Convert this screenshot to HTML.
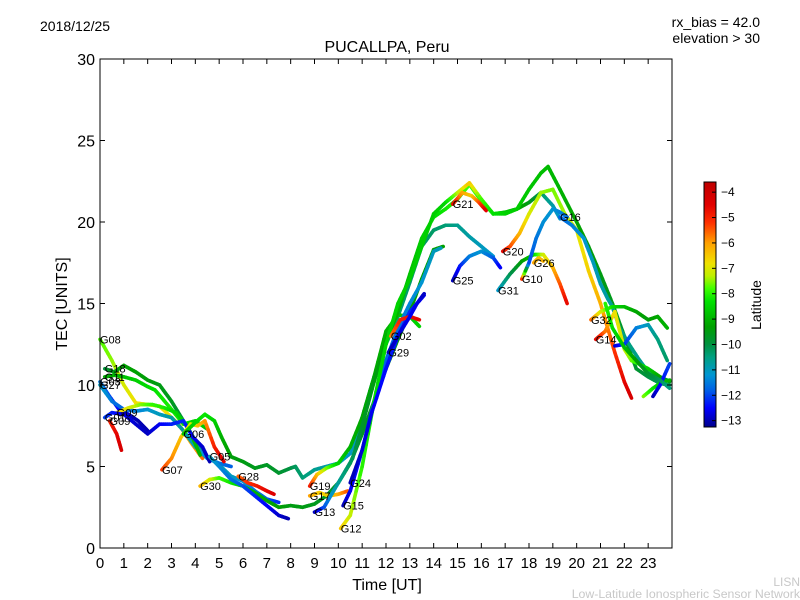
<!DOCTYPE html>
<html><head><meta charset="utf-8"><style>
body{margin:0;background:#fff;}
svg{display:block;font-family:"Liberation Sans","DejaVu Sans",sans-serif;}
</style></head><body>
<svg id="chart" width="800" height="600" viewBox="0 0 800 600">
<text x="40" y="31" font-size="14">2018/12/25</text>
<text x="760" y="27" font-size="14" text-anchor="end">rx_bias = 42.0</text>
<text x="760" y="43" font-size="14" text-anchor="end">elevation &gt; 30</text>
<text x="387" y="52" font-size="16" text-anchor="middle">PUCALLPA, Peru</text>
<text x="387" y="590" font-size="16" text-anchor="middle">Time [UT]</text>
<text transform="translate(67,304) rotate(-90)" font-size="16" text-anchor="middle">TEC [UNITS]</text>
<text x="800" y="586" font-size="12" fill="#c8c8c8" text-anchor="end">LISN</text>
<text x="800" y="598" font-size="12.3" fill="#c8c8c8" text-anchor="end">Low-Latitude Ionospheric Sensor Network</text>
<g id="tracks"></g>
<g id="labels"></g>
<rect x="100" y="59" width="572" height="489" fill="none" stroke="#000" stroke-width="1"/>
<g id="axes"></g>
<defs><linearGradient id="jet" x1="0" y1="1" x2="0" y2="0"></linearGradient></defs>
<rect x="704" y="182" width="12" height="245" fill="url(#jet)" stroke="#000"/>
<g id="cbar"></g>
<text transform="translate(761,305) rotate(-90)" font-size="14" text-anchor="middle">Latitude</text>
</svg>
<script>
const xTicks=[0,1,2,3,4,5,6,7,8,9,10,11,12,13,14,15,16,17,18,19,20,21,22,23];
const yTicks=[0,5,10,15,20,25,30];
const cbarTicks=[-4,-5,-6,-7,-8,-9,-10,-11,-12,-13];
const prns=["G08","G18","G11","G03","G27","G09","G01","G09b","G07","G30","G06","G28","G05","G19","G17","G13","G15","G12","G24","G02","G29","G21","G25","G20","G31","G10","G26","G16","G32","G14","Gx1","Gx2","Gx3","Gx4"];
const labelText={"G08":"G08","G18":"G18","G11":"G11","G03":"G03","G27":"G27","G09":"G09","G01":"G01","G09b":"G09","G07":"G07","G30":"G30","G06":"G06","G28":"G28","G05":"G05","G19":"G19","G17":"G17","G13":"G13","G15":"G15","G12":"G12","G24":"G24","G02":"G02","G29":"G29","G21":"G21","G25":"G25","G20":"G20","G31":"G31","G10":"G10","G26":"G26","G16":"G16","G32":"G32","G14":"G14"};
const times={
G08:[0,0.5,1,1.5,2.5,3.3,3.8,4.3],
G18:[0.2,0.6,1,1.5,2,2.5,3,3.5,4,4.5,5,5.5,6,6.5,7,7.5],
G11:[0.2,0.6,1,1.5,2,2.3,2.6,3,3.5,4,4.5],
G03:[0,0.4,0.8,1.2,1.6,2],
G27:[0,0.5,1,1.5,2,2.5,3,3.5,4,4.5,5,5.5],
G09:[0.7,1.2,1.7,2.2,2.7,3.2,3.7,4.2],
G01:[0.2,0.5,1,1.5,2,2.5,3,3.5,3.9,4.3,4.6],
G09b:[0.4,0.7,0.9],
G07:[2.6,3,3.4,3.8,4.1,4.4,4.8,5.2],
G30:[4.2,4.6,5,5.5,6,6.5,7,7.5,8,8.5,9,9.5,10,10.5,11,11.5,12,12.5,13,13.5,14,14.4],
G06:[3.5,4,4.4,4.8,5.1,5.5,6,6.5,7,7.5,8,8.2,8.5,9,9.5,10,10.5,11,11.5,12,12.5,13,13.5,14,14.5,15,15.5,16,16.5],
G28:[5.8,6.2,6.6,7,7.3],
G05:[4.6,5,5.5,6,6.5,7,7.5,7.9],
G19:[8.8,9.1,9.5,10,10.5,11,11.5,12,12.5,13,13.4],
G17:[8.8,9.2,9.6,10,10.4],
G13:[9,9.4,9.8,10.2,10.6,11,11.5,12,12.5,13,13.5,14,14.5,15,15.5,16,16.5,17,17.5,18,18.5,19,19.3],
G15:[10.2,10.5,11,11.5,12,12.5,13,13.5,14,14.3],
G12:[10.1,10.5,11,11.5,12,12.5,13,13.5,14,14.5,15,15.5,16,16.5,17,17.5,18,18.5,18.8,19.3,20,20.5,21,21.5,22,22.5,23,23.5,23.9],
G24:[10.5,11,11.4,12,12.5,13,13.6],
G02:[12.2,12.6,13,13.4],
G29:[12.1,12.5,13,13.3,13.6],
G21:[14.8,15.2,15.6,15.9,16.2],
G25:[14.8,15.1,15.5,16,16.5,16.8],
G20:[16.9,17.2,17.6,18,18.5,19,19.5,20,20.5,21,21.3,21.6,22,22.3],
G31:[16.7,17.2,17.7,18.2,18.6,19,19.3,19.6],
G10:[17.7,18,18.3,18.6,19,19.3,19.6],
G26:[18.2,18.4,18.6],
G16:[19.3,19.8,20.3,20.7,21,21.3,21.5,21.8,22.2,22.6,23,23.4,23.8],
G32:[20.6,21,21.5,22,22.5,23,23.4,23.8],
G14:[20.8,21.2,21.6,22,22.3,22.6,23,23.5,23.9],
Gx1:[21.6,22,22.5,23,23.4,23.8],
Gx2:[22.8,23.2,23.6,23.9],
Gx3:[23.2,23.5,23.9],
Gx4:[21.2,21.5,22,22.5,23,23.5,23.9]
};
const tec={
G08:[12.8,11.5,10,8.9,8.7,7.6,6.5,5.5],
G18:[11,10.8,11.2,10.8,10.3,10,9,7.8,6.6,5.6,5.1,4.4,4.1,3.5,3,2.8],
G11:[10.5,10.6,10.5,10.3,9.9,9.7,9.2,8.5,7.6,7.8,7.3],
G03:[10.2,9.3,8.5,8.2,7.8,7.2],
G27:[10,9,8.5,8.4,8.5,8.2,8,7.2,6.2,5.5,5.2,5],
G09:[8.3,8.6,8.8,8.8,8.6,8.3,7.4,5.7],
G01:[8,8.3,8.2,7.6,7,7.6,7.6,7.8,6.8,6.2,5.3],
G09b:[7.8,7,6],
G07:[4.8,5.5,6.8,7.6,7.5,7.8,6.2,5.3],
G30:[3.8,4.2,4.3,4,3.8,3.4,2.9,2.5,2.6,2.5,2.7,3.2,4,5.2,7,9,11,12.8,14.5,16.5,18.3,18.5],
G06:[7,7.7,8.2,7.8,6.8,5.6,5.3,4.9,5.1,4.6,4.9,5,4.3,4.8,5,5.2,5.8,8,10.5,12.5,14.2,16.3,18.5,19.5,19.8,19.8,19.1,18.5,17.9],
G28:[4.4,4,3.8,3.5,3.3],
G05:[5.6,5,4.2,3.8,3.2,2.6,2,1.8],
G19:[3.8,4.5,4.9,5.2,6.2,8,10.5,13.3,14.3,14.2,13.6],
G17:[3.2,3.4,3.2,3.3,3.5],
G13:[2.2,2.5,3.5,4.5,5.5,7.5,10.2,12.7,14.5,16.8,19,20.3,20.8,21.4,22.3,21.3,20.5,20.6,20.8,21.2,21.8,21,20.2],
G15:[2.6,3.5,6,9,11.5,13.5,15,16.3,18.2,18.4],
G12:[1.2,2,5,9,12.5,15,16.5,18.5,20.5,21.2,21.8,22.4,21.4,20.5,20.5,20.8,22,23,23.4,22,20,18.5,16.8,15,13,11,10.5,10.1,10],
G24:[4,6,8.3,11,13,14.5,15.5],
G02:[13,14,14.2,14],
G29:[12,13,14.2,15,15.6],
G21:[21.1,21.8,21.6,21.2,20.7],
G25:[16.4,17.3,17.9,18.2,17.8,17.2],
G20:[18.2,18.5,19.3,20.5,21.8,22,20.5,19.5,17,15,13.5,12,10.2,9.2],
G31:[15.8,16.8,17.6,18,18,17.2,16.2,15],
G10:[16.5,17.5,19,20,20.8,20.6,20.3],
G26:[17.5,17.8,17.6],
G16:[20.3,19.8,19,17.5,16.2,15.3,14.8,13.5,12.5,11.6,10.8,10.5,10.3],
G32:[14,14.5,14.8,14.8,14.5,14,14.2,13.5],
G14:[12.8,13.3,14.5,12.2,11.5,11.3,11,10.5,10.2],
Gx1:[12.4,12.5,13.5,13.7,12.8,11.5],
Gx2:[9.3,9.8,10.2,10.3],
Gx3:[9.3,10,11.3],
Gx4:[15,13.5,12.3,11.5,10.7,10.3,9.8]
};
const lats={
G08:[-7.8,-7.5,-7.1,-6.8,-6.9,-6.6,-6.2,-5.6],
G18:[-10,-9.5,-9.3,-9.3,-9.4,-9.5,-9.6,-10,-10.5,-10.8,-11,-11,-11.2,-11.5,-11.8,-12.2],
G11:[-9.2,-9,-8.8,-8.6,-8.4,-8.3,-8.2,-8.1,-8.3,-8.5,-8.7],
G03:[-11.5,-12,-12.5,-12.8,-13,-13],
G27:[-11,-11.5,-11.8,-11.5,-11.2,-11,-10.8,-10.8,-11,-11.3,-11.5,-11.8],
G09:[-6.5,-7,-7.5,-7.9,-8.1,-8.4,-8.8,-9],
G01:[-12,-12.3,-12.6,-12.8,-12.9,-12.6,-12.3,-12.2,-12.5,-12.8,-13],
G09b:[-5,-4.6,-4.2],
G07:[-5.2,-5.8,-6.4,-7,-6.5,-6,-5,-4.4],
G30:[-6.2,-7,-7.8,-8.2,-8.6,-9,-9.2,-9.3,-9.5,-9.5,-9.6,-9.7,-9.8,-9.8,-9.7,-9.6,-9.5,-9.4,-9.3,-9.3,-9.3,-9.3],
G06:[-8.8,-8.5,-8.2,-8.5,-9,-9.4,-9.5,-9.6,-9.7,-9.8,-10,-10.2,-10.4,-10.6,-10.8,-11,-11.1,-11,-10.8,-10.6,-10.4,-10.3,-10.3,-10.3,-10.4,-10.6,-10.8,-11,-11.2],
G28:[-5.6,-5.2,-4.9,-4.6,-4.4],
G05:[-11,-11.3,-11.6,-11.9,-12.2,-12.5,-12.8,-13],
G19:[-4.8,-6.2,-7.5,-8.5,-9,-9.2,-9.2,-9,-8.8,-8.6,-8.5],
G17:[-6,-6.5,-6.6,-6.2,-5.5],
G13:[-13,-12,-11,-10.5,-10.2,-9.8,-9.5,-9.3,-9,-8.8,-8.6,-8.4,-8.2,-8,-7.8,-8,-8.3,-8.6,-9,-9.5,-10.2,-10.8,-11.2],
G15:[-13,-12.6,-12.3,-12,-11.8,-11.6,-11.4,-11.2,-11,-11],
G12:[-6.4,-7.2,-8,-8.3,-8.5,-8.5,-8.6,-8.6,-8.6,-8.5,-7.4,-6.4,-7.8,-8.3,-8.5,-8.6,-8.7,-8.8,-8.9,-9,-9.2,-9.4,-9.5,-9.6,-9.7,-9.8,-10,-10.2,-10.3],
G24:[-13,-12.8,-12.6,-12.4,-12.3,-12.2,-12.6],
G02:[-5.8,-5,-4.8,-4.6],
G29:[-13,-12.8,-12.6,-12.6,-12.9],
G21:[-4.5,-6,-6.5,-5.5,-4.4],
G25:[-13,-12.4,-11.5,-11.2,-11.8,-12.6],
G20:[-4.5,-5.3,-6.2,-7,-7.4,-7.6,-7.4,-7,-6.6,-6.2,-5.8,-5.2,-4.6,-4.2],
G31:[-11.2,-10.2,-9.4,-8.6,-7.2,-6.3,-5.5,-4.6],
G10:[-4.6,-12,-11.6,-11.3,-11.2,-11.4,-11.6],
G26:[-6,-6.4,-6.2],
G16:[-11.8,-11.5,-11.2,-11,-10.9,-10.8,-10.7,-10.6,-10.5,-10.6,-10.8,-11.2,-11.6],
G32:[-5.5,-7,-8.2,-8.8,-9.2,-9.4,-9.2,-9],
G14:[-4.5,-5.6,-6.8,-7.2,-7.6,-8,-8.5,-9.2,-9.6],
Gx1:[-12.8,-12.2,-11.5,-11,-10.5,-10.3],
Gx2:[-7.5,-8.2,-8.8,-9],
Gx3:[-13,-12.6,-12],
Gx4:[-8,-8.3,-8.8,-9.3,-9.8,-10.2,-10.5]
};
const X0=100,X1=672,Y0=548,Y1=59,XMAX=24,YMAX=30;
function xs(t){return X0+t*(X1-X0)/XMAX;}
function ys(v){return Y0-v*(Y0-Y1)/YMAX;}
const VMIN=-13.25,VMAX=-3.6;
const CS=[[-13.25,[0,0,140]],[-12.5,[0,0,255]],[-11.8,[0,96,230]],[-11.2,[0,150,210]],[-10.5,[0,160,128]],[-10,[0,145,64]],[-9.3,[0,160,0]],[-8.3,[0,225,0]],[-7.8,[64,255,0]],[-7.3,[190,240,0]],[-6.8,[240,225,0]],[-6,[255,160,0]],[-5.2,[255,48,0]],[-4.5,[225,0,0]],[-3.6,[190,0,0]]];
function jet(l){l=Math.max(VMIN,Math.min(VMAX,l));
 for(let i=0;i<CS.length-1;i++){if(l<=CS[i+1][0]){const f=(l-CS[i][0])/(CS[i+1][0]-CS[i][0]);const a=CS[i][1],b=CS[i+1][1];
  return `rgb(${Math.round(a[0]+(b[0]-a[0])*f)},${Math.round(a[1]+(b[1]-a[1])*f)},${Math.round(a[2]+(b[2]-a[2])*f)})`;}}
 return 'rgb(190,0,0)';}
const NS="http://www.w3.org/2000/svg";
const grad=document.getElementById('jet');
CS.forEach(s=>{const st=document.createElementNS(NS,'stop');st.setAttribute('offset',(s[0]-VMIN)/(VMAX-VMIN));st.setAttribute('stop-color',`rgb(${s[1].join(',')})`);grad.appendChild(st);});
const gT=document.getElementById('tracks'),gL=document.getElementById('labels'),gA=document.getElementById('axes'),gC=document.getElementById('cbar');
prns.forEach(p=>{
 const t=times[p],v=tec[p],l=lats[p];
 const g=document.createElementNS(NS,'g');
 
 
 for(let i=0;i<t.length-1;i++){
  const n=6;
  for(let k=0;k<n;k++){
   const a=k/n,b=(k+1)/n;
   const s=document.createElementNS(NS,'line');
   s.setAttribute('x1',xs(t[i]+(t[i+1]-t[i])*a));s.setAttribute('y1',ys(v[i]+(v[i+1]-v[i])*a));
   s.setAttribute('x2',xs(t[i]+(t[i+1]-t[i])*b));s.setAttribute('y2',ys(v[i]+(v[i+1]-v[i])*b));
   s.setAttribute('stroke',jet(l[i]+(l[i+1]-l[i])*(a+b)/2));
   s.setAttribute('stroke-width','3.6');s.setAttribute('stroke-linecap','round');
   g.appendChild(s);
  }
 }
 gT.appendChild(g);
 if(labelText[p]){
  const tx=document.createElementNS(NS,'text');
  
  
  tx.setAttribute('x',xs(t[0]));tx.setAttribute('y',ys(v[0])+4);
  tx.setAttribute('font-size','11');tx.textContent=labelText[p];
  gL.appendChild(tx);
 }
});
xTicks.forEach(t=>{
 const x=xs(t);
 [[Y0,Y0-5],[Y1,Y1+5]].forEach(([a,b])=>{const ln=document.createElementNS(NS,'line');
  
  ln.setAttribute('x1',x);ln.setAttribute('x2',x);ln.setAttribute('y1',a);ln.setAttribute('y2',b);ln.setAttribute('stroke','#000');gA.appendChild(ln);});
 const tx=document.createElementNS(NS,'text');
 
 tx.setAttribute('x',x);tx.setAttribute('y',Y0+20);tx.setAttribute('font-size','15');tx.setAttribute('text-anchor','middle');tx.textContent=t;gA.appendChild(tx);
});
yTicks.forEach(v=>{
 const y=ys(v);
 [[X0,X0+5],[X1,X1-5]].forEach(([a,b])=>{const ln=document.createElementNS(NS,'line');
  
  ln.setAttribute('x1',a);ln.setAttribute('x2',b);ln.setAttribute('y1',y);ln.setAttribute('y2',y);ln.setAttribute('stroke','#000');gA.appendChild(ln);});
 const tx=document.createElementNS(NS,'text');
 
 tx.setAttribute('x',X0-5);tx.setAttribute('y',y+6);tx.setAttribute('font-size','16');tx.setAttribute('text-anchor','end');tx.textContent=v;gA.appendChild(tx);
});
cbarTicks.forEach(v=>{
 const y=182+(VMAX-v)/(VMAX-VMIN)*245;
 const ln=document.createElementNS(NS,'line');
 
 ln.setAttribute('x1',712);ln.setAttribute('x2',716);ln.setAttribute('y1',y);ln.setAttribute('y2',y);ln.setAttribute('stroke','#000');gC.appendChild(ln);
 const tx=document.createElementNS(NS,'text');
 
 tx.setAttribute('x',721);tx.setAttribute('y',y+4);tx.setAttribute('font-size','12');tx.textContent='\u2212'+Math.abs(v);gC.appendChild(tx);
});
</script>
</body></html>
